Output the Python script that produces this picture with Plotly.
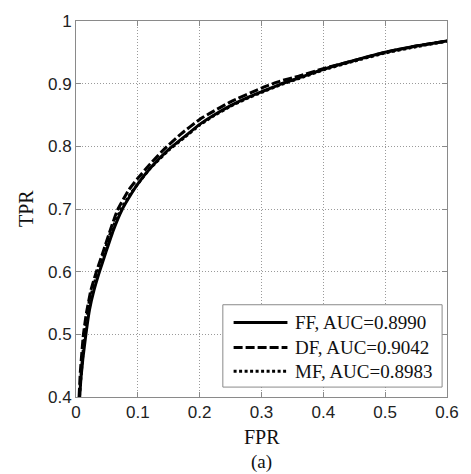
import plotly.graph_objects as go

# ---- data ----
ff_fpr = [0.006, 0.008, 0.011, 0.016, 0.022, 0.029, 0.038, 0.048, 0.060, 0.074, 0.090, 0.100, 0.120, 0.150, 0.175, 0.200, 0.220, 0.250, 0.280, 0.300, 0.330, 0.360, 0.400, 0.450, 0.500, 0.550, 0.600]
ff_tpr = [0.400, 0.430, 0.460, 0.500, 0.540, 0.570, 0.600, 0.630, 0.665, 0.698, 0.725, 0.740, 0.765, 0.795, 0.815, 0.835, 0.848, 0.865, 0.879, 0.887, 0.899, 0.909, 0.923, 0.937, 0.950, 0.960, 0.968]

df_fpr = [0.005, 0.007, 0.012, 0.017, 0.024, 0.033, 0.045, 0.055, 0.067, 0.085, 0.100, 0.120, 0.140, 0.170, 0.200, 0.217, 0.250, 0.300, 0.330, 0.360, 0.400, 0.450, 0.500, 0.550, 0.600]
df_tpr = [0.400, 0.440, 0.500, 0.535, 0.570, 0.600, 0.635, 0.665, 0.698, 0.730, 0.749, 0.772, 0.793, 0.820, 0.843, 0.853, 0.871, 0.893, 0.904, 0.912, 0.924, 0.937, 0.950, 0.960, 0.968]

mf_fpr = [0.0055, 0.0095, 0.014, 0.021, 0.035, 0.045, 0.057, 0.072, 0.088, 0.100, 0.120, 0.150, 0.175, 0.200, 0.220, 0.250, 0.280, 0.300, 0.330, 0.360, 0.400, 0.450, 0.500, 0.550, 0.600]
mf_tpr = [0.400, 0.450, 0.500, 0.550, 0.600, 0.630, 0.665, 0.698, 0.724, 0.740, 0.765, 0.794, 0.814, 0.834, 0.847, 0.864, 0.878, 0.886, 0.898, 0.908, 0.922, 0.936, 0.949, 0.959, 0.968]

series_names = ["FF, AUC=0.8990", "DF, AUC=0.9042", "MF, AUC=0.8983"]
x_ticks = [0, 0.1, 0.2, 0.3, 0.4, 0.5, 0.6]
x_tick_labels = ["0", "0.1", "0.2", "0.3", "0.4", "0.5", "0.6"]
y_ticks = [0.4, 0.5, 0.6, 0.7, 0.8, 0.9, 1.0]
y_tick_labels = ["0.4", "0.5", "0.6", "0.7", "0.8", "0.9", "1"]

dashes = ["solid", "9px,3px", "3px,2.5px"]
SERIF = "Liberation Serif, Times New Roman, serif"
SANS = "Liberation Sans, Arial, sans-serif"

fig = go.Figure()
for xs, ys, nm, d in zip([ff_fpr, df_fpr, mf_fpr], [ff_tpr, df_tpr, mf_tpr], series_names, dashes):
    fig.add_trace(go.Scatter(x=xs, y=ys, mode="lines", name=nm,
                             line=dict(color="black", width=3, dash=d, shape="spline", smoothing=0.4),
                             showlegend=False, hoverinfo="skip"))

# figure fills the whole window (body margin removed below)
W, H = 471, 474
L, R, T, B = 76, 455, 18, 397
pw, ph = R - L, B - T

def px(xp):
    return (xp - L) / pw

def py(yp):
    return (B - yp) / ph

axis_common = dict(showline=True, linecolor="#8a8a8a", linewidth=1, mirror="ticks",
                   ticks="inside", ticklen=5, tickcolor="#8a8a8a",
                   showgrid=True, gridcolor="#9a9a9a", gridwidth=1, griddash="1px,2px",
                   zeroline=False, tickfont=dict(family=SANS, size=17, color="#222222"))

fig.update_xaxes(range=[0, 0.6], tickvals=x_ticks, ticktext=x_tick_labels, **axis_common)
fig.update_yaxes(range=[0.4, 1.0], tickvals=y_ticks, ticktext=y_tick_labels, **axis_common)

shapes = []
annotations = []
# legend box (pixel coordinates converted to paper)
shapes.append(dict(type="rect", xref="paper", yref="paper",
                   x0=px(226), x1=px(450), y0=py(387), y1=py(304),
                   fillcolor="white", line=dict(color="#8a8a8a", width=1), layer="above"))
rows = [322, 347, 371]
for nm, d, ry in zip(series_names, dashes, rows):
    shapes.append(dict(type="line", xref="paper", yref="paper",
                       x0=px(237), x1=px(292), y0=py(ry), y1=py(ry),
                       line=dict(color="black", width=3, dash=d), layer="above"))
    annotations.append(dict(text=nm, xref="paper", yref="paper", x=px(298), y=py(ry),
                            xanchor="left", yanchor="middle", showarrow=False,
                            font=dict(family=SERIF, size=19, color="#111111")))

annotations.append(dict(text="FPR", xref="paper", yref="paper", x=0.5, y=0, yshift=-40,
                        xanchor="center", yanchor="middle", showarrow=False,
                        font=dict(family=SERIF, size=20, color="#111111")))
annotations.append(dict(text="TPR", xref="paper", yref="paper", x=0, y=0.5, xshift=-50,
                        xanchor="center", yanchor="middle", textangle=-90, showarrow=False,
                        font=dict(family=SERIF, size=20, color="#111111")))
annotations.append(dict(text="(a)", xref="paper", yref="paper", x=0.5, y=0, yshift=-65,
                        xanchor="center", yanchor="middle", showarrow=False,
                        font=dict(family=SERIF, size=19, color="#111111")))

fig.update_layout(width=W, height=H, margin=dict(l=L, r=W - R, t=T, b=H - B),
                  paper_bgcolor="white", plot_bgcolor="white", hovermode=False,
                  shapes=shapes, annotations=annotations, showlegend=False)

fig.write_html("out.html", config={"displayModeBar": False, "staticPlot": True},
               post_script="document.body.style.margin='0';document.body.style.overflow='hidden';")
